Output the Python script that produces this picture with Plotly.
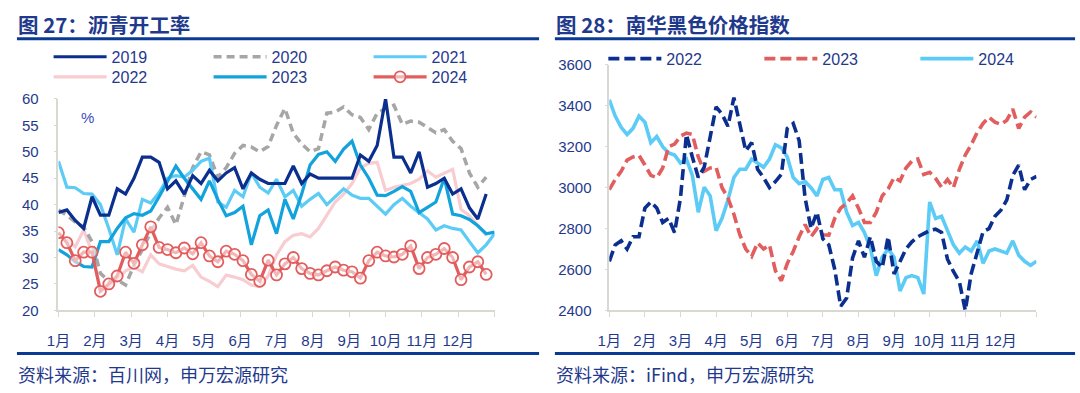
import plotly.graph_objects as go

# ---------------- Left chart: 沥青开工率 (weekly, %) ----------------
months = ["1月", "2月", "3月", "4月", "5月", "6月", "7月", "8月", "9月", "10月", "11月", "12月"]

v2019 = [38.5, 39, 37, 35.5, 41.5, 38, 38, 43, 42, 45, 49, 49, 48, 43, 44.5, 42, 45.5, 44, 46.5, 44.5,
         46, 47, 43, 46, 44.8, 44, 44, 44, 47.3, 44, 45.8, 45, 45, 45, 45, 45, 49.4, 48.2, 51.2, 60,
         49, 49, 46, 50, 43.3, 44, 45, 42, 43, 39.4, 37.3, 42]
v2020 = [39, 38, 36.7, 35.8, 33, 27, 25.5, 25.8, 24.8, 28.5, 31.5, 34.8, 37.5, 39.5, 36.2, 41.5, 47, 50, 49.4, 45.2,
         47, 49.7, 51.2, 50.9, 50, 51, 55, 58.2, 53.5, 51.5, 50, 50.6, 57.3, 57.5, 58.5, 57, 56.5, 54.2, 57.3, 58.2,
         58.8, 55.2, 55.8, 55.6, 54.5, 53.6, 54.2, 52, 50.6, 46, 43.3, 45.2]
v2021 = [48.2, 43.3, 43.2, 42.1, 42, 40, 35.5, 30.5, 37.3, 34.8, 41, 40.3, 42.3, 45, 45.5, 45.2, 46.5, 48.2, 48.8, 40.5,
         39.5, 42.7, 41.5, 46, 43.3, 42.2, 44.8, 41.5, 42.7, 39.7, 41, 42.1, 40, 41.5, 43, 41.8, 41.2, 41.2, 39.7, 38.2,
         40, 41.2, 39.7, 38.5, 37.3, 35.2, 36, 35.5, 35.2, 33, 30.9, 32.4, 34.5]
v2022 = [34.5, 33.5, 32, 35.2, 31, 24, 24.5, 26, 27.5, 28.2, 27.3, 30.5, 28.8, 28.3, 27.8, 27.5, 28.5, 26.3, 25.5, 24.5,
         26.7, 26.3, 25.8, 24.8, 24.5, 26.5, 30.5, 33, 34.2, 34.5, 33.9, 35.5, 38, 40.5, 42, 44, 47, 47.8, 48, 42.7,
         43.3, 43.6, 44, 44.8, 46.4, 45.2, 46, 46.7, 39.1, 37.9, 36.1, 34.2]
v2023 = [31.5, 30.5, 29.2, 28.3, 28.2, 33, 33, 35.5, 37.5, 38.3, 38, 38.8, 41.5, 44.5, 47.3, 45, 43, 41, 44.5, 41,
         37.9, 38.5, 39.7, 32.4, 37.9, 39, 34.5, 41, 37.3, 42, 47.5, 49.5, 50, 48.2, 50.5, 52, 47.5, 45, 41.8, 41.7,
         42.5, 43.4, 42.5, 38.5, 39.5, 40.5, 45, 38.2, 37.9, 37.2, 36, 34.5, 34.8]
v2024 = [34.7, 32.8, 29.4, 31.0, 31.0, 23.6, 25.0, 26.5, 31.0, 28.9, 32.4, 35.8, 31.9, 31.5, 30.9, 31.8, 30.7, 32.8, 30.3, 29.2,
         31.2, 30.6, 29.4, 26.8, 25.5, 29.5, 26.7, 28.8, 30.0, 27.9, 27.0, 26.7, 27.5, 28.2, 27.6, 27.3, 26.1, 29.4, 31.0, 30.3,
         30.1, 30.6, 32.2, 27.9, 30.0, 30.6, 31.7, 30.0, 25.8, 28.2, 29.2, 26.8]
left_yticks = [20, 25, 30, 35, 40, 45, 50, 55, 60]

# ---------------- Right chart: 南华黑色价格指数 ----------------
n2022 = [2640, 2720, 2740, 2700, 2760, 2760, 2900, 2930, 2900, 2830, 2850, 2780, 2950, 3260, 3150, 3050, 3100, 3250,
         3395, 3360, 3300, 3440, 3300, 3180, 3220, 3090, 3049, 3000, 3030, 3065, 3290, 3314, 3230, 2950, 2800, 2880,
         2750, 2720, 2600, 2420, 2460, 2656, 2740, 2660, 2760, 2640, 2609, 2760, 2578, 2640, 2700, 2735, 2760, 2775,
         2790, 2797, 2781, 2650, 2590, 2540, 2400, 2580, 2680, 2785, 2800, 2860, 2890, 2940, 3060, 3110, 2990, 3040, 3055]
n2023 = [2990, 3040, 3080, 3135, 3150, 3158, 3111, 3060, 3049, 3096, 3200, 3213, 3252, 3267, 3260, 3150, 3080, 3096,
         3100, 3000, 2950, 2870, 2770, 2700, 2664, 2730, 2700, 2720, 2594, 2545, 2630, 2688, 2760, 2820, 2760, 2800,
         2770, 2768, 2850, 2900, 2924, 2960, 2900, 2830, 2830, 2880, 2960, 2994, 3050, 3033, 3096, 3130, 3140, 3065,
         3075, 3045, 3002, 3040, 3000, 3090, 3160, 3210, 3270, 3314, 3345, 3320, 3310, 3330, 3384, 3290, 3345, 3370, 3345]
n2024 = [3430, 3350, 3295, 3260, 3290, 3350, 3320, 3220, 3250, 3200, 3170, 3160, 3120, 3140, 3060, 2880, 3002, 2960,
         2790, 2850, 2940, 3050, 3090, 3090, 3140, 3120, 3100, 3140, 3210, 3195, 3150, 3050, 3020, 3030, 3000, 2960,
         3040, 3050, 2990, 2990, 2880, 2815, 2830, 2780, 2706, 2570, 2660, 2700, 2660, 2495, 2560, 2570, 2560, 2480,
         2930, 2850, 2860, 2790, 2720, 2680, 2710, 2690, 2740, 2630, 2690, 2700, 2690, 2680, 2740, 2670, 2640, 2620, 2640]
right_yticks = [2400, 2600, 2800, 3000, 3200, 3400, 3600]

# ---------------- styling ----------------
NAVY = "#0B2F8E"
GRAY = "#A6A6A6"
LIGHT = "#5CCBF5"
PINK = "#F7CDD1"
MID = "#12A3DD"
RED = "#E25D5D"
TXT = "#1F3A8C"
AXC = "#D9D9D4"
FONT = "Liberation Sans, Noto Sans CJK SC, sans-serif"
CJK = "Noto Sans CJK SC, sans-serif"

W, H = 1080, 393
def px(x):
    return x / W
def py(y):
    return 1 - y / H

fig = go.Figure()

def wk(vals):
    return list(range(len(vals)))

fig.add_trace(go.Scatter(x=wk(v2022), y=v2022, name="2022", mode="lines", line=dict(color=PINK, width=3.2),
                         legend="legend2", legendrank=1, xaxis="x", yaxis="y"))
fig.add_trace(go.Scatter(x=wk(v2020), y=v2020, name="2020", mode="lines", line=dict(color=GRAY, width=3.5, dash="8px,5px"),
                         legend="legend", legendrank=2, xaxis="x", yaxis="y"))
fig.add_trace(go.Scatter(x=wk(v2021), y=v2021, name="2021", mode="lines", line=dict(color=LIGHT, width=3.2),
                         legend="legend", legendrank=3, xaxis="x", yaxis="y"))
fig.add_trace(go.Scatter(x=wk(v2023), y=v2023, name="2023", mode="lines", line=dict(color=MID, width=3.2),
                         legend="legend2", legendrank=2, xaxis="x", yaxis="y"))
fig.add_trace(go.Scatter(x=wk(v2019), y=v2019, name="2019", mode="lines", line=dict(color=NAVY, width=3.2),
                         legend="legend", legendrank=1, xaxis="x", yaxis="y"))
fig.add_trace(go.Scatter(x=wk(v2024), y=v2024, name="2024", mode="lines+markers", line=dict(color=RED, width=3.2),
                         marker=dict(symbol="circle", size=11, color="rgba(255,255,255,0.55)", line=dict(color=RED, width=1.8)),
                         legend="legend2", legendrank=3, xaxis="x", yaxis="y"))

def dx(vals):
    return [k / 6 for k in range(len(vals))]

fig.add_trace(go.Scatter(x=dx(n2024), y=n2024, name="2024", mode="lines", line=dict(color=LIGHT, width=3.6),
                         legend="legend3", legendrank=3, xaxis="x2", yaxis="y2"))
fig.add_trace(go.Scatter(x=dx(n2023), y=n2023, name="2023", mode="lines", line=dict(color=RED, width=3.6, dash="11px,5px"),
                         legend="legend3", legendrank=2, xaxis="x2", yaxis="y2"))
fig.add_trace(go.Scatter(x=dx(n2022), y=n2022, name="2022", mode="lines", line=dict(color=NAVY, width=3.6, dash="11px,5px"),
                         legend="legend3", legendrank=1, xaxis="x2", yaxis="y2"))

tickfont = dict(family=FONT, size=15, color=TXT)

left_xt = [j * 52 / 12 for j in range(13)]
fig.update_layout(
    width=W, height=H,
    margin=dict(l=0, r=0, t=0, b=0),
    paper_bgcolor="white", plot_bgcolor="white",
    showlegend=True,
    xaxis=dict(domain=[px(47), px(488)], range=[0, 52], tickvals=left_xt, ticktext=months + [""],
               showgrid=False, zeroline=False, showline=True, linecolor=AXC, linewidth=1.5,
               ticks="outside", ticklen=5, tickcolor=AXC, tickfont=tickfont, ticklabelstandoff=11,
               anchor="y"),
    yaxis=dict(domain=[py(315), py(94)], range=[20, 60], tickvals=left_yticks,
               showgrid=False, zeroline=False, showline=True, linecolor=AXC, linewidth=1.5,
               ticks="outside", ticklen=3, tickcolor=AXC, tickfont=tickfont, ticklabelstandoff=12,
               anchor="x"),
    xaxis2=dict(domain=[px(604), px(1036)], range=[0, 12], tickvals=list(range(13)), ticktext=months + [""],
                showgrid=False, zeroline=False, showline=True, linecolor=AXC, linewidth=1.5,
                ticks="outside", ticklen=5, tickcolor=AXC, tickfont=tickfont, ticklabelstandoff=11,
                anchor="y2"),
    yaxis2=dict(domain=[py(315), py(58.5)], range=[2400, 3600], tickvals=right_yticks,
                showgrid=False, zeroline=False, showline=True, linecolor=AXC, linewidth=1.5,
                ticks="outside", ticklen=3, tickcolor=AXC, tickfont=tickfont, ticklabelstandoff=10,
                anchor="x2"),
)

legfont = dict(family=FONT, size=16, color=TXT)
common_leg = dict(orientation="h", xanchor="left", yanchor="middle", bgcolor="rgba(0,0,0,0)",
                  font=legfont, itemwidth=53, entrywidthmode="pixels", traceorder="normal",
                  itemclick=False, itemdoubleclick=False)
fig.update_layout(
    legend=dict(x=px(37), y=py(50), entrywidth=92, **common_leg),
    legend2=dict(x=px(37), y=py(71), entrywidth=92, **common_leg),
    legend3=dict(x=px(598), y=py(52), entrywidth=88, **common_leg),
)

annos = [
    dict(text="<b>图 27：沥青开工率</b>", x=px(4), y=py(16), xanchor="left", yanchor="middle",
         font=dict(family=CJK, size=20.5, color=TXT)),
    dict(text="<b>图 28：南华黑色价格指数</b>", x=px(548), y=py(16), xanchor="left", yanchor="middle",
         font=dict(family=CJK, size=20.5, color=TXT)),
    dict(text="资料来源：百川网，申万宏源研究", x=px(4), y=py(381), xanchor="left", yanchor="middle",
         font=dict(family=CJK, size=18, color=TXT)),
    dict(text="资料来源：iFind，申万宏源研究", x=px(548), y=py(381), xanchor="left", yanchor="middle",
         font=dict(family=CJK, size=18, color=TXT)),
    dict(text="%", x=px(76), y=py(113), xanchor="center", yanchor="middle",
         font=dict(family=FONT, size=15, color="#3B4CC0")),
]
for a in annos:
    a.update(xref="paper", yref="paper", showarrow=False)
fig.update_layout(annotations=annos)

RULE = "#0A3A93"
shapes = []
for (x0, x1, y) in [(5, 533, 31), (5, 533, 360), (549, 1075, 31), (549, 1075, 360)]:
    shapes.append(dict(type="line", xref="paper", yref="paper", x0=px(x0), x1=px(x1), y0=py(y), y1=py(y),
                       line=dict(color=RULE, width=3)))
fig.update_layout(shapes=shapes)

fig.write_html("out.html", config={"displayModeBar": False},
               post_script="document.body.style.margin='0';")
